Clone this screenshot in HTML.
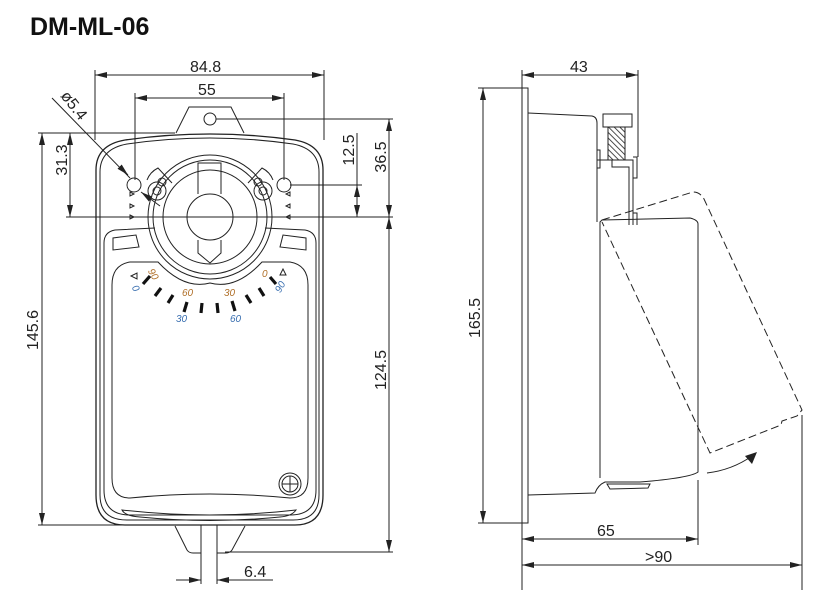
<!DOCTYPE html>
<html><head><meta charset="utf-8"><style>
html,body{margin:0;padding:0;background:#fff;}
svg{display:block;}
text{font-family:"Liberation Sans",sans-serif;fill:#222;}
</style></head><body>
<svg width="835" height="610" viewBox="0 0 835 610" xmlns="http://www.w3.org/2000/svg">
<defs>
<marker id="a" viewBox="0 0 12 6" refX="12" refY="3" markerWidth="12" markerHeight="6" markerUnits="userSpaceOnUse" orient="auto-start-reverse"><path d="M0,0 L12,3 L0,6 z" fill="#222"/></marker>
<pattern id="h" width="4" height="4" patternUnits="userSpaceOnUse" patternTransform="rotate(-45)"><line x1="0" y1="0" x2="0" y2="4" stroke="#222" stroke-width="1.6"/></pattern>
</defs>
<text x="30" y="35" font-size="25" font-weight="bold" style="fill:#111">DM-ML-06</text>

<g stroke="#222" stroke-width="1" fill="none">
<line x1="95" y1="70" x2="95" y2="140"/>
<line x1="324" y1="70" x2="324" y2="140"/>
<line x1="95" y1="75" x2="324" y2="75" marker-start="url(#a)" marker-end="url(#a)"/>
<line x1="135" y1="93" x2="135" y2="180"/>
<line x1="284" y1="93" x2="284" y2="180"/>
<line x1="135" y1="98" x2="284" y2="98" marker-start="url(#a)" marker-end="url(#a)"/>
<line x1="216" y1="119" x2="393" y2="119"/>
<line x1="38" y1="133" x2="175" y2="133"/>
<line x1="66" y1="217" x2="393" y2="217"/>
<line x1="70" y1="133" x2="70" y2="217" marker-start="url(#a)" marker-end="url(#a)"/>
<line x1="42" y1="133" x2="42" y2="525" marker-start="url(#a)" marker-end="url(#a)"/>
<line x1="38" y1="525" x2="200" y2="525"/>
<line x1="290" y1="185" x2="362" y2="185"/>
<line x1="357" y1="133" x2="357" y2="185"/>
<line x1="357" y1="185" x2="357" y2="217" marker-start="url(#a)" marker-end="url(#a)"/>
<line x1="389" y1="119" x2="389" y2="217" marker-start="url(#a)" marker-end="url(#a)"/>
<line x1="389" y1="217" x2="389" y2="552" marker-start="url(#a)" marker-end="url(#a)"/>
<line x1="225" y1="552" x2="393" y2="552"/>
<line x1="52" y1="98" x2="130" y2="178"/>
<line x1="120" y1="167" x2="128" y2="175" marker-end="url(#a)"/>
<line x1="160" y1="206" x2="141" y2="192" marker-end="url(#a)"/>
<line x1="201" y1="525" x2="201" y2="584"/>
<line x1="217" y1="525" x2="217" y2="584"/>
<line x1="176" y1="580" x2="201" y2="580" marker-end="url(#a)"/>
<line x1="242" y1="580" x2="217" y2="580" marker-end="url(#a)"/>
<line x1="217" y1="580" x2="273" y2="580"/>

<path d="M176,133 L189,107 L231,107 L244,133"/>
<circle cx="210" cy="119" r="6"/>
<path d="M96,170 Q96,145 125,140 Q210,128 295,140 Q323,145 323,170 L323,495 Q323,525 295,525 L125,525 Q96,525 96,495 Z" stroke-width="1.3"/>
<path d="M100,172 Q100,149 127,144 Q210,132 293,144 Q319,149 319,172 L319,495 Q319,520 293,520 L127,520 Q100,520 100,495 Z"/>
<path d="M175,526 L187,550 Q189,553 193,553 L201,553 M217,553 L226,553 Q230,553 232,550 L245,526"/>
<path d="M122,510 Q210,520 296,510 Q292,516 280,517 Q210,524 140,517 Q125,516 122,510Z"/>
<path d="M155,228 L115,230 Q104,232 104,243 L104,490 Q104,515 130,515 L290,515 Q316,515 316,490 L316,243 Q316,232 305,230 L265,228"/>
<path d="M112,285 Q112,265 130,262 L158,262 Q184,290 210,283 Q236,290 262,262 L290,262 Q308,265 308,285 L308,478 Q308,498 290,498 Q210,490 130,498 Q112,498 112,478 Z"/>
<path d="M113,250 L113,238 L136,235 L139,247 Z"/>
<path d="M306,250 L306,238 L283,235 L280,247 Z"/>
<circle cx="210" cy="217" r="62"/>
<circle cx="210" cy="217" r="57"/>
<circle cx="210" cy="217" r="47"/>
<circle cx="210" cy="217" r="23"/>
<path d="M147,180 Q150,172 158,168 L172,183 M273,180 Q270,172 262,168 L248,183"/>
<circle cx="157" cy="191" r="9"/><circle cx="157" cy="191" r="4"/>
<circle cx="162" cy="182" r="4"/>
<circle cx="263" cy="191" r="9"/><circle cx="263" cy="191" r="4"/>
<circle cx="258" cy="182" r="4"/>
<path d="M198,194 L198,163 L221,163 L221,194 M198,240 L198,253 L210,263 L221,253 L221,240"/>
<circle cx="134" cy="185" r="7"/>
<circle cx="284" cy="185" r="7"/>
<circle cx="290" cy="484" r="11"/><circle cx="290" cy="484" r="8"/>
<line x1="290" y1="476" x2="290" y2="492"/><line x1="282" y1="484" x2="298" y2="484"/>
</g>
<g fill="none" stroke="#222" stroke-width="1">
<path d="M130,192 l4,2 l-4,2z M130,204 l4,2 l-4,2z M130,215 l4,2 l-4,2z"/>
<path d="M290,192 l-4,2 l4,2z M290,204 l-4,2 l4,2z M290,215 l-4,2 l4,2z"/>
<path d="M131,276 l6,-3 l0,6z M283,269 l-3,6 l6,0z"/>
</g>
<g stroke="#111" stroke-width="3.2">
<line x1="143" y1="284" x2="150" y2="276"/>
<line x1="155" y1="296" x2="161" y2="288"/>
<line x1="168" y1="303" x2="173" y2="295"/>
<line x1="184" y1="312" x2="187" y2="302"/>
<line x1="201" y1="313" x2="202" y2="303"/>
<line x1="218" y1="313" x2="217" y2="303"/>
<line x1="235" y1="311" x2="232" y2="301"/>
<line x1="251" y1="303" x2="246" y2="295"/>
<line x1="264" y1="296" x2="259" y2="288"/>
<line x1="276" y1="284" x2="270" y2="277"/>
</g>
<g font-size="10" font-style="italic">
<text x="150" y="277" style="fill:#b0702a" transform="rotate(60 154 272)">90</text>
<text x="133" y="293" style="fill:#3a6fb0" transform="rotate(60 137 289)">0</text>
<text x="182" y="296" style="fill:#b0702a">60</text>
<text x="176" y="322" style="fill:#3a6fb0">30</text>
<text x="224" y="296" style="fill:#b0702a">30</text>
<text x="230" y="322" style="fill:#3a6fb0">60</text>
<text x="262" y="277" style="fill:#b0702a">0</text>
<text x="276" y="290" style="fill:#3a6fb0" transform="rotate(-60 281 288)">90</text>
</g>
<g font-size="16">
<text x="190" y="72">84.8</text>
<text x="198" y="95">55</text>
<text x="67" y="160" transform="rotate(-90 67 160)" text-anchor="middle">31.3</text>
<text x="38" y="330" transform="rotate(-90 38 330)" text-anchor="middle">145.6</text>
<text x="354" y="150" transform="rotate(-90 354 150)" text-anchor="middle">12.5</text>
<text x="386" y="157" transform="rotate(-90 386 157)" text-anchor="middle">36.5</text>
<text x="386" y="370" transform="rotate(-90 386 370)" text-anchor="middle">124.5</text>
<text x="244" y="577">6.4</text>
<text x="60" y="96" transform="rotate(52 60 96)">ø5.4</text>
<text x="570" y="72">43</text>
<text x="480" y="318" transform="rotate(-90 480 318)" text-anchor="middle">165.5</text>
<text x="597" y="536">65</text>
<text x="645" y="562">&gt;90</text>
</g>

<g stroke="#222" stroke-width="1" fill="none">
<line x1="522" y1="70" x2="522" y2="590"/>
<line x1="638" y1="70" x2="638" y2="157"/>
<line x1="522" y1="75" x2="638" y2="75" marker-start="url(#a)" marker-end="url(#a)"/>
<line x1="478" y1="88" x2="528" y2="88"/>
<line x1="478" y1="523" x2="528" y2="523"/>
<line x1="483" y1="88" x2="483" y2="523" marker-start="url(#a)" marker-end="url(#a)"/>
<line x1="698" y1="480" x2="698" y2="545"/>
<line x1="802" y1="415" x2="802" y2="590"/>
<line x1="522" y1="539" x2="698" y2="539" marker-start="url(#a)" marker-end="url(#a)"/>
<line x1="522" y1="565" x2="802" y2="565" marker-start="url(#a)" marker-end="url(#a)"/>
<rect x="522" y="88" width="6" height="435"/>
<path d="M528,113 L592,116 Q597,117 597,123 L597,222"/>
<path d="M528,495 L595,493 Q598,485 605,482 L640,482 Q690,478 698,472 L698,224 Q698,220 690,218 L602,220 L600,222 L600,478"/>
<path d="M607,484 L650,484 L648,488 L610,489 Z"/>
<rect x="603" y="114" width="29" height="13"/>
<rect x="608" y="127" width="17" height="33" fill="url(#h)"/>
<path d="M597,160 L633,160 L633,225 M612,160 L612,167 L629,167 L629,225 M597,150 L600,150 L600,168 L597,168"/>
<path d="M633,157 L637,157 L637,178 L633,178"/>
<path d="M633,213 L637,213 L637,225"/>
<path d="M602,220 L693,192 Q700,192 704,199 L802,410 L797,416 L782,421 L781,425 L710,453 L602,222" stroke-dasharray="8,4"/>
<path d="M707,473 Q732,470 752,456"/>
</g>
<path d="M757,452 L745,456 L752,464 Z" fill="#222"/>
</svg>
</body></html>
